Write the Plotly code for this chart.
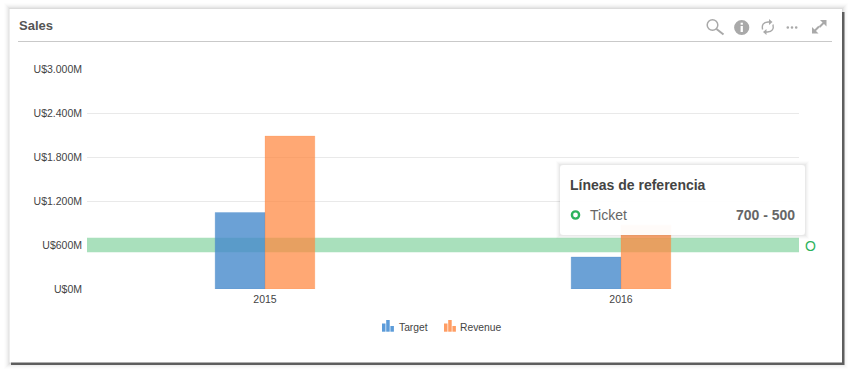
import plotly.graph_objects as go

W, H = 852, 373
years = ["2015", "2016"]
target = [1043, 436]
revenue = [2086, 870]
series_names = ["Target", "Revenue"]
y_ticks = [0, 600, 1200, 1800, 2400, 3000]
y_labels = ["U$0M", "U$600M", "U$1.200M", "U$1.800M", "U$2.400M", "U$3.000M"]
grid_values = [1200, 1800, 2400]
band_low, band_high = 500, 700
band_label = "Ticket"
band_text = "700 - 500"

FONT = "Liberation Sans"
L, R, T, B = 87, 53, 69, 84
PW, PH = W - L - R, H - T - B


def px(x):
    return (x - L) / PW


def py(y):
    return 1 - (y - T) / PH


def P(*pts):
    """Build an SVG path in paper coords from pixel tuples / command strings."""
    out = []
    for p in pts:
        if isinstance(p, str):
            out.append(p)
        else:
            out.append(f"{px(p[0]):.5f},{py(p[1]):.5f}")
    return " ".join(out)


shapes = []


def rect(x0, y0, x1, y1, fill, line=None, lw=0, layer="above"):
    shapes.append(dict(type="rect", xref="paper", yref="paper", x0=px(x0), x1=px(x1), y0=py(y0), y1=py(y1),
                       fillcolor=fill, line=dict(color=line or "rgba(0,0,0,0)", width=lw), layer=layer))


def line(x0, y0, x1, y1, color, w=1, layer="above"):
    shapes.append(dict(type="line", xref="paper", yref="paper", x0=px(x0), x1=px(x1), y0=py(y0), y1=py(y1),
                       line=dict(color=color, width=w), layer=layer))


def circle(cx, cy, r, fill="rgba(0,0,0,0)", color="rgba(0,0,0,0)", w=0, layer="above"):
    shapes.append(dict(type="circle", xref="paper", yref="paper", x0=px(cx - r), x1=px(cx + r), y0=py(cy - r), y1=py(cy + r),
                       fillcolor=fill, line=dict(color=color, width=w), layer=layer))


def path(d, fill="rgba(0,0,0,0)", color="rgba(0,0,0,0)", w=0, layer="above"):
    shapes.append(dict(type="path", xref="paper", yref="paper", path=d, fillcolor=fill,
                       line=dict(color=color, width=w), layer=layer))


# Card shadow and card
for i, a in [(6, 0.008), (5, 0.012), (4, 0.018), (3, 0.025), (2, 0.035), (1, 0.045)]:
    rect(10 - i, 9 - i, 842 + i, 363 + i, f"rgba(0,0,0,{a})", layer="below")
rect(11, 12, 844.5, 365, "rgba(70,70,70,0.85)", layer="below")
rect(9.5, 9, 842, 362.5, "white", layer="below")
line(18, 41.5, 832, 41.5, "#c9c9c9", 1, layer="below")

# Reference band, sits behind the translucent bars
shapes.append(dict(type="rect", xref="x domain", yref="y", x0=0, x1=1, y0=band_low, y1=band_high,
                   fillcolor="rgba(45,179,93,0.41)", line=dict(width=0), layer="below"))

# Header icons
GR = "#a9a9a9"
circle(712.5, 25, 5.3, color=GR, w=1.5)
line(716.5, 29, 723.5, 34.5, GR, 2)
circle(741.7, 27.5, 7.6, fill=GR)
rect(740.6, 26, 742.9, 32, "white")
rect(740.6, 22.7, 742.9, 24.7, "white")
path(P("M", (762.6, 29.5), "Q", (761, 22.5), (768, 22), "L", (769.5, 22)), color=GR, w=1.4)
path(P("M", (769, 19), "L", (772.5, 22), "L", (769, 25), "Z"), fill=GR)
path(P("M", (773, 24.5), "Q", (774.5, 31.5), (767.5, 32), "L", (766, 32)), color=GR, w=1.4)
path(P("M", (766.5, 29), "L", (763, 32), "L", (766.5, 35), "Z"), fill=GR)
for x in (787.8, 792, 796.2):
    circle(x, 27.5, 1.3, fill=GR)
path(P("M", (820, 20), "L", (826.5, 20), "L", (826.5, 26.5), "Z"), fill=GR)
line(824, 22.5, 819.5, 27, GR, 2)
path(P("M", (812, 27), "L", (812, 33.5), "L", (818.5, 33.5), "Z"), fill=GR)
line(814.5, 31, 819, 26.5, GR, 2)

# Legend icons
BL, OR = "#5b9bd9", "#ff9d63"
for x0, col in ((382, BL), (444, OR)):
    rect(x0, 323.5, x0 + 3.5, 331.7, col)
    rect(x0 + 4.2, 320, x0 + 7.7, 331.7, col)
    rect(x0 + 8.4, 326, x0 + 11.9, 331.7, col)

# Tooltip
for i, a in [(4, 0.012), (3, 0.018), (2, 0.025), (1, 0.03)]:
    rect(560 - i, 165 - i, 805 + i, 235 + i, f"rgba(0,0,0,{a})")
r = 3
path(P("M", (560 + r, 165), "L", (805 - r, 165), "Q", (805, 165), (805, 165 + r), "L", (805, 235 - r),
       "Q", (805, 235), (805 - r, 235), "L", (560 + r, 235), "Q", (560, 235), (560, 235 - r), "L", (560, 165 + r),
       "Q", (560, 165), (560 + r, 165), "Z"), fill="rgba(255,255,255,0.96)")
circle(575.5, 215, 3.6, color="#2db35d", w=2.4)


def note(text, x, y, size, color, bold=False, anchor="left"):
    return dict(text=f"<b>{text}</b>" if bold else text, xref="paper", yref="paper", x=px(x), y=py(y),
                xanchor=anchor, yanchor="middle", showarrow=False, align=anchor,
                font=dict(family=FONT, size=size, color=color), xshift=0, borderpad=0, borderwidth=0)


annotations = [
    note("Sales", 19, 25.5, 13, "#555555", True),
    note(series_names[0], 399, 327, 10.3, "#444444"),
    note(series_names[1], 460, 327, 10.3, "#444444"),
    note("Líneas de referencia", 570, 185, 14, "#444444", True),
    note(band_label, 590, 215, 14, "#666666"),
    note(band_text, 795, 215, 14, "#666666", True, "right"),
    note("O", 805, 246, 14, "#2db35d"),
]

fig = go.Figure()
fig.add_bar(x=years, y=target, name=series_names[0], marker=dict(color="rgba(70,137,204,0.8)", line=dict(color="rgba(70,137,204,0.25)", width=1)))
fig.add_bar(x=years, y=revenue, name=series_names[1], marker=dict(color="rgba(255,135,62,0.72)", line=dict(color="rgba(255,135,62,0.2)", width=1)))
fig.update_layout(
    width=W, height=H, autosize=False,
    margin=dict(l=L, r=R, t=T, b=B, pad=0),
    paper_bgcolor="white", plot_bgcolor="rgba(0,0,0,0)",
    barmode="group", bargap=0.72, bargroupgap=0,
    showlegend=False, shapes=shapes, annotations=annotations,
    font=dict(family=FONT, size=10.5, color="#444444"),
    xaxis=dict(type="category", showgrid=False, zeroline=False, showline=False, ticks="", ticklabelstandoff=2,
               tickfont=dict(family=FONT, size=10.5, color="#444444")),
    yaxis=dict(range=[0, 3000], tickvals=y_ticks, ticktext=y_labels, showgrid=False, zeroline=False, showline=False,
               ticks="", ticklabelstandoff=4, tickfont=dict(family=FONT, size=10.5, color="#444444"),
               minor=dict(tickvals=grid_values, showgrid=True, gridcolor="#e9e9e9", gridwidth=1, ticks="")),
)
fig.write_html("out.html", config=dict(displayModeBar=False),
               post_script="document.body.style.margin='0';document.body.style.overflow='hidden';")
